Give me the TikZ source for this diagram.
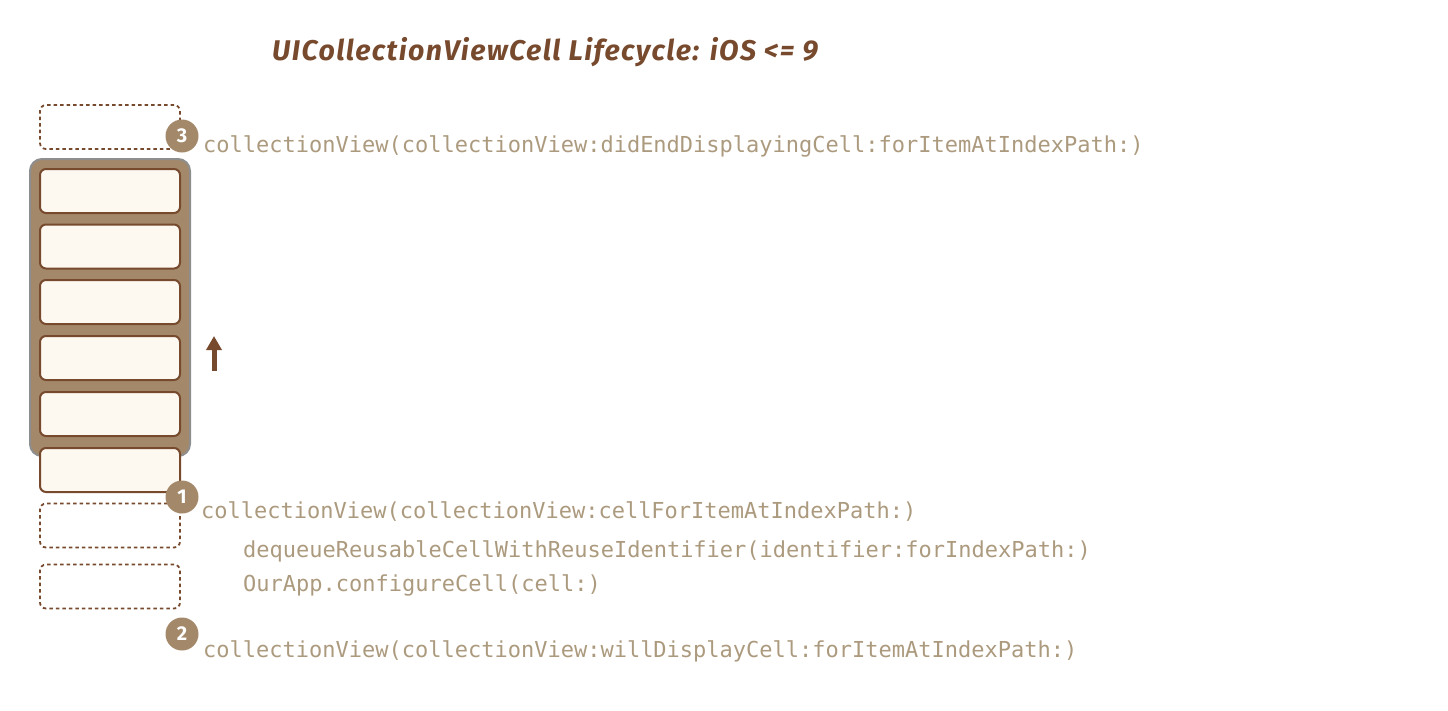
\documentclass[tikz,border=0pt]{standalone}
\usepackage{fontspec}
\newfontfamily\codefont{DejaVu Sans Mono}
\newfontfamily\headfont{Fira Sans}
\usetikzlibrary{arrows.meta}
\definecolor{lcbrown}{HTML}{774A2E}
\definecolor{lctan}{HTML}{A3896A}
\definecolor{lccode}{HTML}{AC9A7E}
\definecolor{lccream}{HTML}{FDF8F0}
\definecolor{lcgrey}{HTML}{8E8E8E}

\begin{document}
\begin{tikzpicture}
[x=1pt, y=-1pt, every node/.style={inner sep=0pt},
 livecell/.style={rectangle, rounded corners=6pt, minimum width=140pt, minimum height=44pt, fill=lccream, line width=2pt, draw=lcbrown},
 freecell/.style={rectangle, rounded corners=6pt, minimum width=140pt, minimum height=44pt, line width=1.8pt, draw=lcbrown, dash pattern=on 3.5pt off 3pt},
 badge/.style={circle, minimum size=33pt, fill=lctan, text=white, font=\headfont\bfseries\fontsize{20}{20}\selectfont},
 calltext/.style={anchor=base west, text=lccode, font=\codefont\fontsize{22}{24}\selectfont}]
\useasboundingbox (0,0) rectangle (1448,710);
\node (title) [anchor=base west, text=lcbrown, font=\headfont\bfseries\itshape\fontsize{28.5}{30}\selectfont\addfontfeatures{LetterSpace=5}] at (272, 60) {UICollectionViewCell Lifecycle: iOS <= 9};
\node (view) [rectangle, rounded corners=12pt, minimum width=160pt, minimum height=297pt, fill=lctan, line width=2pt, draw=lcgrey] at (110, 307.5) {};
\node (gone) [freecell] at (110, 127) {};
\node (cell1) [livecell] at (110, 191) {};
\node (cell2) [livecell] at (110, 246.5) {};
\node (cell3) [livecell] at (110, 302) {};
\node (cell4) [livecell] at (110, 358) {};
\node (cell5) [livecell] at (110, 414) {};
\node (cell6) [livecell] at (110, 470) {};
\node (free1) [freecell] at (110, 525.5) {};
\node (free2) [freecell] at (110, 586.5) {};
\node (b3) [badge] at (182, 136) {3};
\node (b1) [badge] at (182, 497) {1};
\node (b2) [badge] at (182, 634) {2};
\node (end) [calltext] at (203, 152) {collectionView(collectionView:didEndDisplayingCell:forItemAtIndexPath:)};
\node (cellfor) [calltext] at (201, 518) {collectionView(collectionView:cellForItemAtIndexPath:)};
\node (dequeue) [calltext] at (243, 557) {dequeueReusableCellWithReuseIdentifier(identifier:forIndexPath:)};
\node (configure) [calltext] at (243, 591) {OurApp.configureCell(cell:)};
\node (display) [calltext] at (203, 657) {collectionView(collectionView:willDisplayCell:forItemAtIndexPath:)};
\coordinate (scrollfrom) at (214, 371);
\coordinate (scrollto) at (214, 336);
\draw [line width=5pt, -{Triangle[width=15pt, length=14pt]}, color=lcbrown] (scrollfrom) -- (scrollto);
\end{tikzpicture}
\end{document}
